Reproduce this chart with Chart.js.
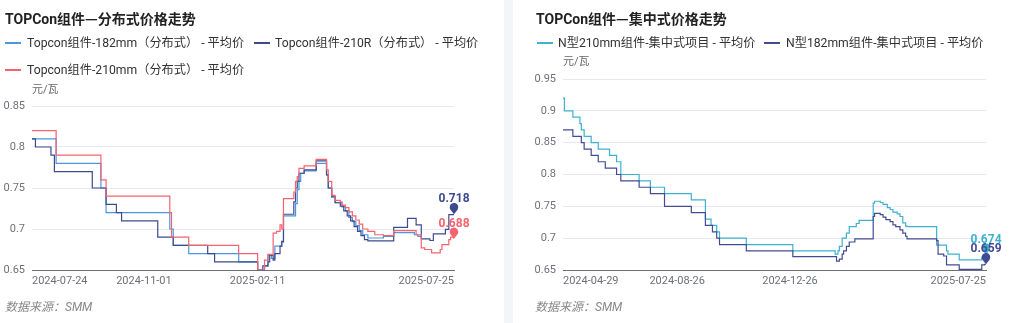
<!DOCTYPE html>
<html>
<head>
<meta charset="utf-8">
<script src="https://cdn.jsdelivr.net/npm/chart.js@4"></script>
<style>
  html, body { margin: 0; padding: 0; background: #fff; }
  body { width: 1024px; height: 323px; position: relative; overflow: hidden;
         font-family: Roboto, "Noto Sans CJK SC", sans-serif; }
  #gap { position: absolute; left: 504px; width: 9px; top: 0; height: 323px; background: #f4f5f7; }
  .t { position: absolute; white-space: nowrap; }
  .title { font-size: 14px; font-weight: bold; color: #222; line-height: 20px; height: 20px; }
  .title .dash { font-family: "Noto Sans CJK SC", sans-serif; }
  .leg { font-size: 12.2px; color: #333; line-height: 16px; height: 16px; }
  .sw { position: absolute; height: 2px; width: 16px; }
  .unit { font-size: 11px; color: #666; line-height: 14px; height: 14px; }
  .src { font-size: 12px; color: #888; font-style: italic; line-height: 16px; height: 16px; }
  canvas { position: absolute; top: 0; }
</style>
</head>
<body>
<div id="gap"></div>
<canvas id="left" width="504" height="323" style="left:0"></canvas>
<canvas id="right" width="511" height="323" style="left:513px"></canvas>

<div class="t title" style="left:5px;top:8px">TOPCon组件<span class="dash">—</span>分布式价格走势</div>
<div class="t title" style="left:536px;top:8px">TOPCon组件<span class="dash">—</span>集中式价格走势</div>
<div class="t unit" style="left:32px;top:83px">元/瓦</div>
<div class="t unit" style="left:563px;top:55px">元/瓦</div>
<div class="t src" style="left:5px;top:299px">数据来源：SMM</div>
<div class="t src" style="left:535px;top:299px">数据来源：SMM</div>
<div id="legends"></div>

<script>
// ---- Distributed TOPCon module prices (x = trading day since 2024-07-24) ----
const leftDateTicks = ['2024-07-24', '2024-11-01', '2025-02-11', '2025-07-25'];
const leftTickDays = [0, 65, 131, 245];
const leftPriceTicks = [0.65, 0.7, 0.75, 0.8, 0.85];

const day182 = [0,14,40,43,80,82,91,120,131,135,137,139,141,145,146,153,154,155,156,158,165,171,172,174,176,180,182,184,186,188,190,192,195,204,210,222,224,226];
const avg182 = [0.81,0.78,0.75,0.72,0.70,0.68,0.67,0.66,0.65,0.655,0.668,0.664,0.679,0.684,0.716,0.731,0.748,0.758,0.768,0.771,0.78,0.766,0.75,0.7395,0.732,0.727,0.722,0.714,0.709,0.704,0.698,0.693,0.689,0.691,0.6956,0.693,0.691,0.691];

const day210R = [0,2,11,13,35,43,49,52,73,82,102,106,131,134,137,138,140,141,144,145,146,152,153,154,155,158,165,171,172,174,176,179,181,183,185,187,189,191,193,195,210,218,223,226,231,233,240,242,245];
const avg210R = [0.81,0.80,0.79,0.77,0.75,0.73,0.72,0.71,0.69,0.68,0.67,0.66,0.65,0.655,0.66,0.668,0.662,0.67,0.679,0.685,0.718,0.733,0.75,0.758,0.768,0.772,0.783,0.766,0.75,0.739,0.732,0.728,0.722,0.716,0.71,0.703,0.697,0.692,0.687,0.6856,0.702,0.713,0.705,0.688,0.686,0.694,0.6995,0.7176,0.718];

const day210 = [0,14,40,43,80,81,91,120,131,135,137,140,142,144,145,146,152,153,154,155,158,165,171,172,174,176,179,180,182,184,186,188,190,192,195,199,204,210,223,226,228,232,237,238,242,243,245];
const avg210 = [0.82,0.79,0.76,0.74,0.72,0.69,0.68,0.67,0.65,0.662,0.669,0.695,0.697,0.705,0.70,0.737,0.745,0.758,0.764,0.774,0.777,0.785,0.772,0.758,0.741,0.735,0.733,0.729,0.726,0.721,0.716,0.711,0.706,0.70,0.697,0.693,0.692,0.698,0.693,0.677,0.675,0.671,0.675,0.681,0.687,0.69,0.688];

// ---- Centralised N-type module prices (x = trading day since 2024-04-29) ----
const rightDateTicks = ['2024-04-29', '2024-08-26', '2024-12-26', '2025-07-25'];
const rightTickDays = [0, 81, 161, 300];
const rightPriceTicks = [0.65, 0.7, 0.75, 0.8, 0.85, 0.9, 0.95];

const dayN210 = [0,1,7,12,13,15,20,25,33,38,41,54,62,72,91,101,105,109,111,130,163,193,195,196,198,201,203,208,210,220,221,225,227,230,232,234,237,239,241,243,244,265,272,273,281,297,299,300];
const avgN210 = [0.92,0.90,0.89,0.88,0.87,0.86,0.85,0.84,0.83,0.82,0.80,0.79,0.78,0.77,0.76,0.73,0.72,0.71,0.70,0.69,0.68,0.675,0.68,0.687,0.70,0.708,0.718,0.723,0.728,0.755,0.758,0.756,0.753,0.748,0.745,0.741,0.738,0.734,0.724,0.719,0.718,0.689,0.68,0.675,0.666,0.67,0.674,0.674];

const dayN182 = [0,7,13,15,20,25,30,38,41,54,62,72,91,101,106,109,111,130,163,194,196,198,199,201,203,207,220,221,225,227,229,232,234,236,239,241,243,244,265,266,270,272,281,297,299,300];
const avgN182 = [0.87,0.86,0.85,0.84,0.83,0.82,0.81,0.80,0.79,0.78,0.77,0.75,0.74,0.72,0.71,0.70,0.69,0.68,0.671,0.664,0.667,0.675,0.68,0.687,0.694,0.699,0.734,0.739,0.737,0.733,0.729,0.726,0.721,0.718,0.713,0.708,0.703,0.699,0.696,0.675,0.672,0.658,0.651,0.658,0.659,0.659];

const points = (days, vals) => days.map((d, i) => ({ x: d, y: vals[i] }));

Chart.defaults.font.family = 'Roboto, "Noto Sans CJK SC", sans-serif';

// Pin marker + value label at the last point of flagged series
const endMarks = {
  id: 'endMarks',
  afterDatasetsDraw(chart) {
    const ctx = chart.ctx;
    chart.data.datasets.forEach((ds, di) => {
      if (!ds.endMark) return;
      const meta = chart.getDatasetMeta(di);
      const last = meta.data[meta.data.length - 1];
      const x = last.x, y = last.y;
      const r = 4.3, cy = y - 7;
      ctx.save();
      ctx.beginPath();
      ctx.moveTo(x, y);
      ctx.arc(x, cy, r, Math.PI * 5 / 6, Math.PI * 13 / 6, false);
      ctx.closePath();
      ctx.fillStyle = ds.borderColor;
      ctx.fill();
      ctx.font = 'bold 12px Roboto, "Noto Sans CJK SC", sans-serif';
      ctx.fillStyle = ds.borderColor;
      ctx.textAlign = 'center';
      ctx.textBaseline = 'middle';
      ctx.fillText(String(ds.data[ds.data.length - 1].y), x, y - 15);
      ctx.restore();
    });
  }
};

function lineSet(label, color, data, order, endMark) {
  return {
    label, data, order, endMark,
    borderColor: color, backgroundColor: color,
    borderWidth: 1.2, pointRadius: 0, stepped: true, fill: false
  };
}

function makeChart(id, datasets, cfg) {
  return new Chart(document.getElementById(id), {
    type: 'line',
    data: { datasets },
    plugins: [endMarks],
    options: {
      responsive: false,
      animation: false,
      events: [],
      layout: { padding: cfg.padding },
      plugins: { legend: { display: false }, tooltip: { enabled: false } },
      scales: {
        x: {
          type: 'linear', min: 0, max: cfg.tickDays[cfg.tickDays.length - 1],
          afterBuildTicks: s => { s.ticks = cfg.tickDays.map(v => ({ value: v })); },
          afterFit: s => { s.height = 20; },
          grid: { display: false, drawTicks: false },
          border: { display: true, color: '#6E7079', width: 1 },
          ticks: {
            autoSkip: false, maxRotation: 0, align: 'inner', padding: 5,
            color: '#6E7079', font: { size: 11 },
            callback: (v, i) => cfg.dateTicks[i]
          }
        },
        y: {
          min: cfg.priceTicks[0], max: cfg.priceTicks[cfg.priceTicks.length - 1],
          afterBuildTicks: s => { s.ticks = cfg.priceTicks.map(v => ({ value: v })); },
          afterFit: s => { s.width = cfg.yWidth; },
          grid: { color: '#E6E9EF', drawTicks: false },
          border: { display: false },
          ticks: {
            padding: 7, color: '#6E7079', font: { size: 11 },
            callback: v => String(+v.toFixed(2))
          }
        }
      }
    }
  });
}

const leftSets = [
  lineSet('Topcon组件-182mm（分布式） - 平均价', '#4b96de', points(day182, avg182), 3, false),
  lineSet('Topcon组件-210R（分布式） - 平均价', '#3d4b8e', points(day210R, avg210R), 2, true),
  lineSet('Topcon组件-210mm（分布式） - 平均价', '#f4636f', points(day210, avg210), 1, true)
];
const rightSets = [
  lineSet('N型210mm组件-集中式项目 - 平均价', '#3cb2cf', points(dayN210, avgN210), 2, true),
  lineSet('N型182mm组件-集中式项目 - 平均价', '#434c93', points(dayN182, avgN182), 1, true)
];

makeChart('left', leftSets, {
  padding: { top: 106, right: 50, bottom: 33, left: 0 }, yWidth: 32,
  tickDays: leftTickDays, dateTicks: leftDateTicks, priceTicks: leftPriceTicks
});
makeChart('right', rightSets, {
  padding: { top: 79, right: 38, bottom: 33, left: 0 }, yWidth: 50,
  tickDays: rightTickDays, dateTicks: rightDateTicks, priceTicks: rightPriceTicks
});

// HTML legends built from the dataset labels and colours
const legendSlots = [
  { set: leftSets[0], sw: 5, tx: 27, y: 43 },
  { set: leftSets[1], sw: 254, tx: 275, y: 43 },
  { set: leftSets[2], sw: 5, tx: 27, y: 70 },
  { set: rightSets[0], sw: 537, tx: 558, y: 43 },
  { set: rightSets[1], sw: 764, tx: 786, y: 43 }
];
const host = document.getElementById('legends');
legendSlots.forEach(s => {
  const line = document.createElement('div');
  line.className = 'sw';
  line.style.left = s.sw + 'px';
  line.style.top = (s.y - 1) + 'px';
  line.style.background = s.set.borderColor;
  host.appendChild(line);
  const txt = document.createElement('div');
  txt.className = 't leg';
  txt.style.left = s.tx + 'px';
  txt.style.top = (s.y - 8) + 'px';
  txt.textContent = s.set.label;
  host.appendChild(txt);
});
</script>
</body>
</html>
